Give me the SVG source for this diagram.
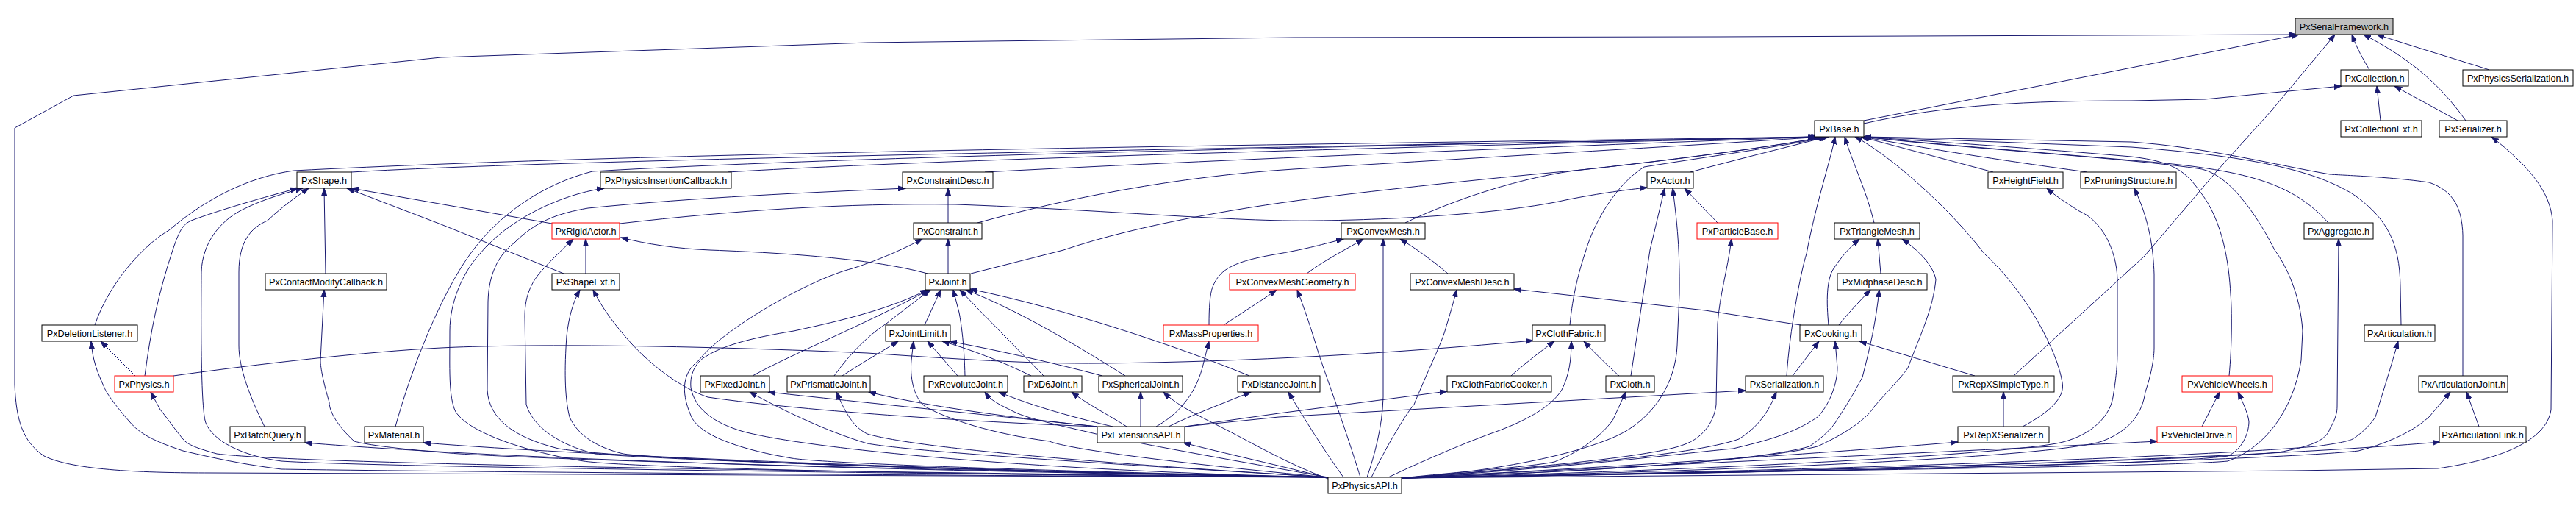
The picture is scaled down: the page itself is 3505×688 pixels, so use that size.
<svg xmlns="http://www.w3.org/2000/svg" width="3505" height="688" viewBox="0 0 3505 688">
<style>
.n rect{fill:#fff;stroke:#000;stroke-width:1}
.n.r rect{stroke:#f00}
.n.root rect{fill:#bfbfbf}
.n text{font-family:"Liberation Sans",Arial,sans-serif;font-size:12.7px;text-anchor:middle;fill:#000}
.e path{fill:none;stroke:#191970;stroke-width:1;marker-end:url(#a)}
</style>
<defs>
<marker id="a" markerWidth="11" markerHeight="8" refX="10" refY="4" orient="auto" markerUnits="userSpaceOnUse"><path d="M0,0.5 L10,4 L0,7.5 z" fill="#191970" stroke="#191970" stroke-width="1"/></marker>
</defs>
<rect width="3505" height="688" fill="#fff"/>
<g id="edges" class="e">
<path d="M2536,164 L3128,47"/>
<path d="M1807,649 L287,643 C200,643 100,640 60,620 C30,600 22,570 20,523 L20,174 L100,130 L600,78 L1180,58 L1760,51 L2340,50 L3124,47"/>
<path d="M3224,95 C3215,80 3207,66 3200,47"/>
<path d="M3355,164 C3320,115 3280,80 3216,47"/>
<path d="M3387,95 C3340,80 3280,62 3234,47"/>
<path d="M2740,511 L2918,348 L3016,233 L3091,150 L3177,47"/>
<path d="M2536,168 C2650,142 2760,137 2900,137 L3000,135 L3186,117"/>
<path d="M3239,164 L3234,117"/>
<path d="M3344,164 L3258,117"/>
<path d="M1907,650 L3120,640 L3317,637 C3400,625 3465,600 3471,557 L3473,300 C3470,260 3440,225 3390,186"/>
<path d="M478,234 C800,215 1800,200 2470,186"/>
<path d="M129,442 C150,380 200,330 230,313 C280,270 340,240 400,232 C900,206 1800,196 2472,186"/>
<path d="M990,234 C1300,215 2000,198 2474,186"/>
<path d="M538,580 C560,500 600,400 640,345 C680,290 740,250 806,233 C1200,210 2000,196 2476,186"/>
<path d="M1340,234 C1700,215 2200,196 2478,186"/>
<path d="M1330,303 C1450,270 1600,240 1760,230 C2000,215 2300,198 2480,186"/>
<path d="M1321,372 L1447,340 C1550,305 1700,280 1810,267 C1900,256 2050,240 2142,232 C2300,215 2420,198 2482,186"/>
<path d="M1912,303 C1960,280 2050,245 2142,232 C2300,215 2420,198 2484,186"/>
<path d="M2300,234 C2370,215 2440,198 2486,186"/>
<path d="M2136,442 C2140,400 2148,370 2158,340 C2170,300 2200,250 2237,227 C2330,212 2420,200 2488,186"/>
<path d="M1907,650 C2400,640 2950,635 3031,627 C3080,610 3120,560 3131,490 L3133,450 C3130,400 3110,360 3095,340 C3080,310 3040,240 2996,230 C2900,215 2650,200 2536,186"/>
<path d="M2712,234 L2532,186"/>
<path d="M2840,234 C2700,215 2600,198 2534,186"/>
<path d="M2550,303 C2540,260 2520,220 2510,186"/>
<path d="M2431,511 C2435,450 2450,370 2458,345 C2470,280 2490,220 2497,186"/>
<path d="M2752,580 C2790,560 2810,540 2806,520 C2800,480 2760,400 2700,345 C2650,280 2570,210 2524,186"/>
<path d="M3168,303 C3120,250 3060,230 2900,218 C2750,205 2620,195 2536,186"/>
<path d="M3033,511 C3037,470 3037,420 3035,400 C3033,360 3025,300 2993,260 C2975,235 2960,220 2900,213 C2750,200 2620,192 2536,186"/>
<path d="M3267,442 L3266,390 C3265,340 3255,300 3200,263 C3160,240 3100,215 2900,200 L2536,186"/>
<path d="M3351,511 L3351,320 C3350,285 3340,260 3305,248 C3250,240 3180,238 3170,237 C3100,225 3000,200 2900,193 L2536,186"/>
<path d="M843,304 C1000,286 1150,276 1300,278 C1500,285 1680,302 1790,300 C1900,299 2050,290 2130,272 C2180,262 2215,258 2241,255"/>
<path d="M2219,511 L2245,340 L2265,256"/>
<path d="M1907,650 C2050,640 2150,615 2199,593 C2250,570 2280,520 2282,470 L2285,400 C2286,330 2280,290 2276,256"/>
<path d="M2337,303 L2292,256"/>
<path d="M197,511 C205,450 215,400 235,340 C245,310 250,305 260,300 C300,285 360,268 405,256"/>
<path d="M1807,649 C1300,645 500,635 383,627 C330,620 290,600 280,575 C272,555 274,400 274,370 C275,330 300,300 330,285 C360,270 390,262 412,256"/>
<path d="M360,580 C340,540 325,500 325,470 L325,370 C325,330 340,310 364,300 C385,280 405,266 420,256"/>
<path d="M443,372 L441,256"/>
<path d="M767,372 L600,305 L472,256"/>
<path d="M751,304 L478,256"/>
<path d="M1807,649 C1200,645 850,635 794,627 C720,615 640,590 620,560 C610,540 612,500 612,450 C612,410 630,370 653,345 C690,300 760,265 822,256"/>
<path d="M1290,303 L1290,256"/>
<path d="M1807,649 C1300,640 850,625 760,610 C700,595 665,570 663,530 L664,410 C665,370 680,345 700,330 C730,300 760,290 800,283 C950,268 1100,262 1232,256"/>
<path d="M797,372 L797,325"/>
<path d="M1807,649 C1300,640 900,625 810,617 C760,605 725,580 716,550 L714,430 C714,400 725,380 740,365 C755,348 770,335 780,325"/>
<path d="M1262,372 C1200,355 1100,345 966,340 C920,338 880,332 845,323"/>
<path d="M1290,372 L1290,325"/>
<path d="M1807,649 C1400,640 1120,630 1077,623 C1000,610 950,590 940,565 C925,530 930,505 951,490 C980,450 1100,380 1160,365 C1200,352 1230,338 1255,325"/>
<path d="M1645,442 C1645,420 1646,400 1650,390 C1660,365 1680,355 1740,345 C1780,338 1800,332 1828,325"/>
<path d="M1778,372 C1800,355 1830,340 1855,325"/>
<path d="M1860,649 C1870,620 1881,580 1882,540 L1882,325"/>
<path d="M1970,372 C1950,355 1930,340 1905,325"/>
<path d="M1665,442 C1690,425 1715,410 1737,394"/>
<path d="M1851,649 C1830,580 1800,500 1794,480 C1785,450 1775,420 1765,394"/>
<path d="M1866,649 C1890,600 1915,560 1924,550 C1940,510 1960,470 1966,450 C1972,430 1978,410 1982,394"/>
<path d="M2450,442 L2320,422 L2060,393"/>
<path d="M1807,649 C1400,640 1100,610 1012,587 C970,575 945,555 940,527 C938,505 950,490 960,485 C990,465 1050,455 1080,450 C1150,435 1210,420 1262,394"/>
<path d="M1024,511 C1080,480 1180,440 1264,394"/>
<path d="M1135,511 C1150,490 1175,460 1206,440 C1225,425 1245,410 1266,394"/>
<path d="M1258,442 L1280,394"/>
<path d="M1313,511 C1312,470 1308,440 1305,425 L1297,394"/>
<path d="M1420,511 C1380,470 1340,430 1306,394"/>
<path d="M1531,511 C1450,460 1380,420 1314,394"/>
<path d="M1700,511 C1600,470 1450,420 1320,393"/>
<path d="M1146,511 C1170,495 1200,478 1222,464"/>
<path d="M1303,511 L1262,464"/>
<path d="M1403,511 C1360,490 1320,475 1282,464"/>
<path d="M1500,511 C1420,490 1350,475 1292,464"/>
<path d="M1807,649 C1600,630 1450,610 1428,600 C1350,590 1290,570 1259,553 C1242,540 1238,510 1240,490 L1243,464"/>
<path d="M1573,580 C1600,565 1625,540 1636,500 L1645,464"/>
<path d="M236,511 C350,495 500,478 600,473 C700,468 900,468 1180,480 C1300,488 1400,495 1500,494 C1700,492 1900,480 2086,463"/>
<path d="M2056,511 C2080,490 2100,475 2115,464"/>
<path d="M1889,649 C1950,620 2000,600 2027,590 C2070,575 2110,555 2125,530 C2135,510 2138,490 2138,464"/>
<path d="M2203,511 C2185,495 2170,480 2155,464"/>
<path d="M1612,580 L1740,562 L1969,532"/>
<path d="M1907,650 C2000,640 2080,635 2115,628 C2160,610 2185,585 2195,570 L2212,533"/>
<path d="M1590,580 C1620,565 1660,550 1702,533"/>
<path d="M1828,649 C1800,610 1775,570 1753,533"/>
<path d="M1552,580 L1552,533"/>
<path d="M1807,651 C1750,630 1700,600 1660,580 C1630,565 1600,550 1583,533"/>
<path d="M1533,580 C1510,565 1480,550 1458,533"/>
<path d="M1807,649 C1700,630 1560,605 1504,593 C1450,580 1400,570 1380,560 C1360,550 1348,545 1340,533"/>
<path d="M1514,580 C1450,565 1400,550 1359,533"/>
<path d="M1493,580 C1400,570 1200,550 1045,533"/>
<path d="M1807,649 C1500,630 1250,615 1180,603 C1120,585 1060,555 1020,533"/>
<path d="M1807,649 C1500,630 1250,610 1180,590 C1160,580 1150,560 1138,533"/>
<path d="M1493,580 C1350,565 1250,550 1182,533"/>
<path d="M1807,649 C1300,640 900,625 848,617 C810,608 785,590 775,567 C768,540 768,500 771,457 C774,430 780,410 789,394"/>
<path d="M1493,580 C1350,575 1100,560 963,540 C920,525 880,490 859,467 C835,440 820,420 807,394"/>
<path d="M1807,649 C1300,640 700,625 600,615 C540,610 500,605 482,600 C460,580 448,560 448,547 C440,520 436,500 436,490 L441,394"/>
<path d="M184,511 L137,464"/>
<path d="M1807,649 C1000,645 500,640 383,638 C320,630 280,620 249,613 C210,600 190,590 176,573 C160,555 145,535 142,527 C132,505 126,490 124,464"/>
<path d="M1807,649 C1000,640 400,630 295,617 C270,610 255,605 249,597 C235,580 225,565 218,557 L205,533"/>
<path d="M1807,649 C1200,640 700,625 415,602"/>
<path d="M1807,649 C1300,640 800,620 576,602"/>
<path d="M1807,650 C1750,635 1660,615 1610,602"/>
<path d="M1907,650 C2100,635 2250,620 2290,605 C2320,595 2333,570 2335,550 L2337,440 C2340,400 2350,370 2356,325"/>
<path d="M2488,442 C2485,410 2485,380 2495,365 C2505,350 2515,338 2530,325"/>
<path d="M2559,372 L2555,325"/>
<path d="M1907,650 C2200,640 2400,625 2473,607 C2510,590 2540,570 2550,553 C2570,530 2590,510 2596,500 C2615,450 2630,420 2634,380 C2630,360 2610,340 2588,325"/>
<path d="M2502,442 C2515,425 2530,410 2545,394"/>
<path d="M1907,650 C2200,640 2400,625 2462,607 C2480,595 2495,580 2500,570 C2520,540 2530,520 2534,513 C2545,470 2552,440 2557,394"/>
<path d="M2439,511 L2475,464"/>
<path d="M1907,650 C2150,635 2300,615 2358,610 C2400,600 2440,590 2473,567 C2490,550 2500,520 2500,500 L2497,464"/>
<path d="M2687,511 L2530,464"/>
<path d="M1612,580 L1740,567 L2375,531"/>
<path d="M1907,650 C2100,635 2300,620 2366,597 C2385,585 2400,570 2412,545 L2417,533"/>
<path d="M2726,580 L2726,533"/>
<path d="M1907,650 C2200,635 2500,615 2664,601"/>
<path d="M2996,580 L3020,533"/>
<path d="M1907,650 C2500,640 2950,632 3031,620 C3050,612 3060,590 3060,573 C3058,560 3052,548 3045,533"/>
<path d="M1907,650 C2300,630 2700,612 2935,600"/>
<path d="M1907,650 C2500,640 3000,620 3151,607 C3180,603 3195,600 3201,597 C3220,585 3230,570 3232,567 C3240,540 3250,510 3263,464"/>
<path d="M3373,580 L3356,533"/>
<path d="M1907,650 C2600,640 3100,625 3209,613 C3240,605 3280,590 3305,567 L3334,533"/>
<path d="M1907,650 C2600,640 3100,620 3320,601"/>
<path d="M1907,650 C2300,640 2700,620 2798,603 C2840,595 2870,570 2875,540 C2880,510 2881,490 2881,480 L2881,380 C2880,340 2860,300 2829,287 C2810,275 2795,265 2785,256"/>
<path d="M1907,650 C2400,640 2800,620 2860,600 C2900,585 2915,560 2919,533 C2930,500 2931,480 2931,473 L2931,373 C2930,340 2925,300 2904,256"/>
<path d="M1907,650 C2500,640 3000,625 3100,615 C3140,608 3165,600 3170,583 C3178,570 3180,560 3180,553 L3182,325"/>
</g>
<g id="n1" class="n root"><rect x="3123" y="25" width="133" height="22"/><text x="3189.5" y="40.5">PxSerialFramework.h</text></g>
<g id="n2" class="n"><rect x="3185" y="95" width="92" height="22"/><text x="3231" y="110.5">PxCollection.h</text></g>
<g id="n3" class="n"><rect x="3351" y="95" width="150" height="22"/><text x="3426" y="110.5">PxPhysicsSerialization.h</text></g>
<g id="n4" class="n"><rect x="3185" y="164" width="110" height="22"/><text x="3240" y="179.5">PxCollectionExt.h</text></g>
<g id="n5" class="n"><rect x="3319" y="164" width="92" height="22"/><text x="3365" y="179.5">PxSerializer.h</text></g>
<g id="n6" class="n"><rect x="2469" y="164" width="67" height="22"/><text x="2502.5" y="179.5">PxBase.h</text></g>
<g id="n7" class="n"><rect x="404" y="234" width="74" height="22"/><text x="441" y="249.5">PxShape.h</text></g>
<g id="n8" class="n"><rect x="817" y="234" width="178" height="22"/><text x="906" y="249.5">PxPhysicsInsertionCallback.h</text></g>
<g id="n9" class="n"><rect x="1228" y="234" width="123" height="22"/><text x="1289.5" y="249.5">PxConstraintDesc.h</text></g>
<g id="n10" class="n"><rect x="2241" y="234" width="63" height="22"/><text x="2272.5" y="249.5">PxActor.h</text></g>
<g id="n11" class="n"><rect x="2705" y="234" width="102" height="22"/><text x="2756" y="249.5">PxHeightField.h</text></g>
<g id="n12" class="n"><rect x="2831" y="234" width="130" height="22"/><text x="2896" y="249.5">PxPruningStructure.h</text></g>
<g id="n13" class="n r"><rect x="751" y="303" width="92" height="22"/><text x="797" y="318.5">PxRigidActor.h</text></g>
<g id="n14" class="n"><rect x="1243" y="303" width="93" height="22"/><text x="1289.5" y="318.5">PxConstraint.h</text></g>
<g id="n15" class="n"><rect x="1825" y="303" width="114" height="22"/><text x="1882" y="318.5">PxConvexMesh.h</text></g>
<g id="n16" class="n r"><rect x="2309" y="303" width="110" height="22"/><text x="2364" y="318.5">PxParticleBase.h</text></g>
<g id="n17" class="n"><rect x="2496" y="303" width="116" height="22"/><text x="2554" y="318.5">PxTriangleMesh.h</text></g>
<g id="n18" class="n"><rect x="3135" y="303" width="94" height="22"/><text x="3182" y="318.5">PxAggregate.h</text></g>
<g id="n19" class="n"><rect x="361" y="372" width="165" height="22"/><text x="443.5" y="387.5">PxContactModifyCallback.h</text></g>
<g id="n20" class="n"><rect x="751" y="372" width="92" height="22"/><text x="797" y="387.5">PxShapeExt.h</text></g>
<g id="n21" class="n"><rect x="1259" y="372" width="61" height="22"/><text x="1289.5" y="387.5">PxJoint.h</text></g>
<g id="n22" class="n r"><rect x="1673" y="372" width="171" height="22"/><text x="1758.5" y="387.5">PxConvexMeshGeometry.h</text></g>
<g id="n23" class="n"><rect x="1919" y="372" width="141" height="22"/><text x="1989.5" y="387.5">PxConvexMeshDesc.h</text></g>
<g id="n24" class="n"><rect x="2500" y="372" width="122" height="22"/><text x="2561" y="387.5">PxMidphaseDesc.h</text></g>
<g id="n25" class="n"><rect x="57" y="442" width="130" height="22"/><text x="122" y="457.5">PxDeletionListener.h</text></g>
<g id="n26" class="n"><rect x="1205" y="442" width="88" height="22"/><text x="1249" y="457.5">PxJointLimit.h</text></g>
<g id="n27" class="n r"><rect x="1583" y="442" width="129" height="22"/><text x="1647.5" y="457.5">PxMassProperties.h</text></g>
<g id="n28" class="n"><rect x="2085" y="442" width="99" height="22"/><text x="2134.5" y="457.5">PxClothFabric.h</text></g>
<g id="n29" class="n"><rect x="2449" y="442" width="84" height="22"/><text x="2491" y="457.5">PxCooking.h</text></g>
<g id="n30" class="n"><rect x="3217" y="442" width="96" height="22"/><text x="3265" y="457.5">PxArticulation.h</text></g>
<g id="n31" class="n r"><rect x="156" y="511" width="80" height="22"/><text x="196" y="526.5">PxPhysics.h</text></g>
<g id="n32" class="n"><rect x="953" y="511" width="94" height="22"/><text x="1000" y="526.5">PxFixedJoint.h</text></g>
<g id="n33" class="n"><rect x="1071" y="511" width="113" height="22"/><text x="1127.5" y="526.5">PxPrismaticJoint.h</text></g>
<g id="n34" class="n"><rect x="1257" y="511" width="114" height="22"/><text x="1314" y="526.5">PxRevoluteJoint.h</text></g>
<g id="n35" class="n"><rect x="1393" y="511" width="79" height="22"/><text x="1432.5" y="526.5">PxD6Joint.h</text></g>
<g id="n36" class="n"><rect x="1495" y="511" width="114" height="22"/><text x="1552" y="526.5">PxSphericalJoint.h</text></g>
<g id="n37" class="n"><rect x="1684" y="511" width="112" height="22"/><text x="1740" y="526.5">PxDistanceJoint.h</text></g>
<g id="n38" class="n"><rect x="1969" y="511" width="142" height="22"/><text x="2040" y="526.5">PxClothFabricCooker.h</text></g>
<g id="n39" class="n"><rect x="2185" y="511" width="66" height="22"/><text x="2218" y="526.5">PxCloth.h</text></g>
<g id="n40" class="n"><rect x="2375" y="511" width="106" height="22"/><text x="2428" y="526.5">PxSerialization.h</text></g>
<g id="n41" class="n"><rect x="2657" y="511" width="138" height="22"/><text x="2726" y="526.5">PxRepXSimpleType.h</text></g>
<g id="n42" class="n r"><rect x="2969" y="511" width="123" height="22"/><text x="3030.5" y="526.5">PxVehicleWheels.h</text></g>
<g id="n43" class="n"><rect x="3291" y="511" width="121" height="22"/><text x="3351.5" y="526.5">PxArticulationJoint.h</text></g>
<g id="n44" class="n"><rect x="313" y="580" width="102" height="22"/><text x="364" y="595.5">PxBatchQuery.h</text></g>
<g id="n45" class="n"><rect x="496" y="580" width="80" height="22"/><text x="536" y="595.5">PxMaterial.h</text></g>
<g id="n46" class="n"><rect x="1493" y="580" width="119" height="22"/><text x="1552.5" y="595.5">PxExtensionsAPI.h</text></g>
<g id="n47" class="n"><rect x="2664" y="580" width="124" height="22"/><text x="2726" y="595.5">PxRepXSerializer.h</text></g>
<g id="n48" class="n r"><rect x="2935" y="580" width="108" height="22"/><text x="2989" y="595.5">PxVehicleDrive.h</text></g>
<g id="n49" class="n"><rect x="3319" y="580" width="118" height="22"/><text x="3378" y="595.5">PxArticulationLink.h</text></g>
<g id="n50" class="n"><rect x="1807" y="649" width="100" height="22"/><text x="1857" y="664.5">PxPhysicsAPI.h</text></g>
</svg>
